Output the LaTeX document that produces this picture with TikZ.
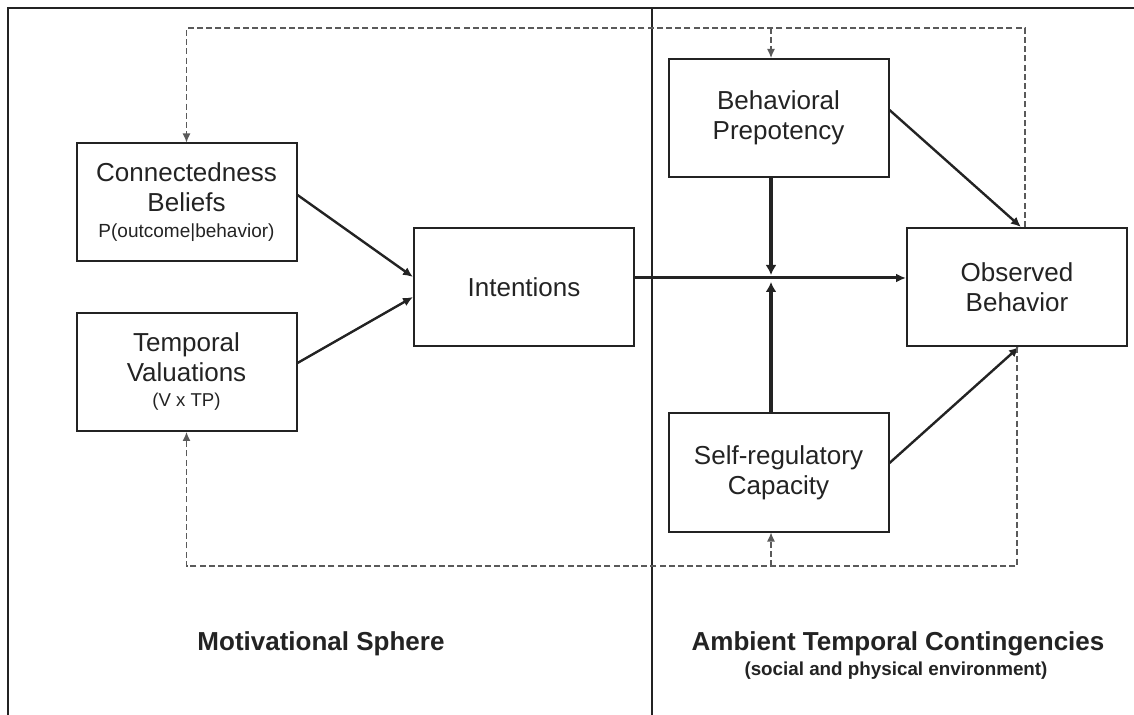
\documentclass[tikz,border=0pt]{standalone}
\usepackage{fontspec}
\setmainfont{Liberation Sans}
\usetikzlibrary{arrows.meta,calc}
\definecolor{ink}{RGB}{35,35,35}
\definecolor{dashc}{RGB}{90,90,90}
\begin{document}
\begin{tikzpicture}[x=0.5pt,y=-0.5pt,
  box/.style={draw=ink, line width=1pt, minimum width=110pt, minimum height=59pt,
    inner sep=0pt, align=center, text=ink, font=\fontsize{13}{15}\selectfont},
  conn/.style={draw=ink, line width=1.2pt, -{Latex[length=5pt,width=4.5pt]}},
  mainconn/.style={conn, line width=1.5pt},
  heavy/.style={draw=ink, line width=2.4pt, -{Latex[length=5pt,width=5.5pt]}},
  fb/.style={draw=dashc, line width=0.6pt, dash pattern=on 3pt off 1.6pt},
  fbarrow/.style={fb, -{Latex[length=4.5pt,width=4pt]}},
  framel/.style={draw=ink, line width=1pt},
  sectlabel/.style={font=\bfseries\fontsize{13}{15}\selectfont, text=ink, anchor=base, inner sep=0pt},
  sublabel/.style={font=\bfseries\fontsize{9.4}{11}\selectfont, text=ink, anchor=base, inner sep=0pt}
]
\useasboundingbox (0,0) rectangle (1134,715);

% frame and divider
\coordinate (fbl) at (8,715);
\coordinate (ftl) at (8,8);
\coordinate (ftr) at (1134,8);
\coordinate (dtop) at (652,8);
\coordinate (dbot) at (652,715);
\draw[framel] (fbl) -- (ftl) -- (ftr);
\draw[draw=ink, line width=0.8pt] (dtop) -- (dbot);

% boxes
\node[box] (cb) at (186.5,202.5) {Connectedness\\Beliefs\\[-2pt]{\fontsize{9.5}{11}\selectfont P(outcome|behavior)}};
\node[box] (tv) at (186.5,372) {Temporal\\Valuations\\[-2.5pt]{\fontsize{9.3}{11}\selectfont (V x TP)}};
\node[box] (int) at (524,287) {Intentions};
\node[box] (bp) at (778.5,118) {Behavioral\\Prepotency};
\node[box] (sr) at (778.5,472.5) {Self-regulatory\\Capacity};
\node[box] (ob) at (1017,287) {Observed\\Behavior};

% solid arrows
\draw[conn] ($(cb.east)+(0,-7.5)$) -- ($(int.west)+(0,-10)$);
\draw[conn] ($(tv.east)+(0,-9)$) -- ($(int.west)+(0,10)$);
\draw[mainconn] ($(int.east)+(0,-9)$) -- ($(ob.west)+(0,-9)$);
\coordinate (vx) at (771,278);
\draw[heavy] ($(bp.south)+(-7.5,0)$) -- ($(vx)+(0,-3)$);
\draw[heavy] ($(sr.north)+(-7.5,0)$) -- ($(vx)+(0,4)$);
\draw[conn] ($(bp.east)+(0,-8)$) -- ($(ob.north)+(4,0)$);
\draw[conn] ($(sr.east)+(0,-9.5)$) -- ($(ob.south)+(2,0)$);

% feedback loops
\coordinate (topy) at (0,28);
\coordinate (boty) at (0,566);
\coordinate (obtop) at ($(ob.north)+(8,0)$);
\draw[fbarrow] (obtop) -- (obtop |- topy) -| (cb.north);
\coordinate (bpin) at ($(bp.north)+(-7.5,0)$);
\draw[fbarrow] (bpin |- topy) -- (bpin);
\draw[fbarrow] (ob.south) -- (ob.south |- boty) -| (tv.south);
\coordinate (srin) at ($(sr.south)+(-7.5,0)$);
\draw[fbarrow] (srin |- boty) -- (srin);

% labels
\node[sectlabel] (ms) at (321,650) {Motivational Sphere};
\node[sectlabel] (atc) at (898,650) {Ambient Temporal Contingencies};
\node[sublabel] (spe) at (896,675) {(social and physical environment)};
\end{tikzpicture}
\end{document}
